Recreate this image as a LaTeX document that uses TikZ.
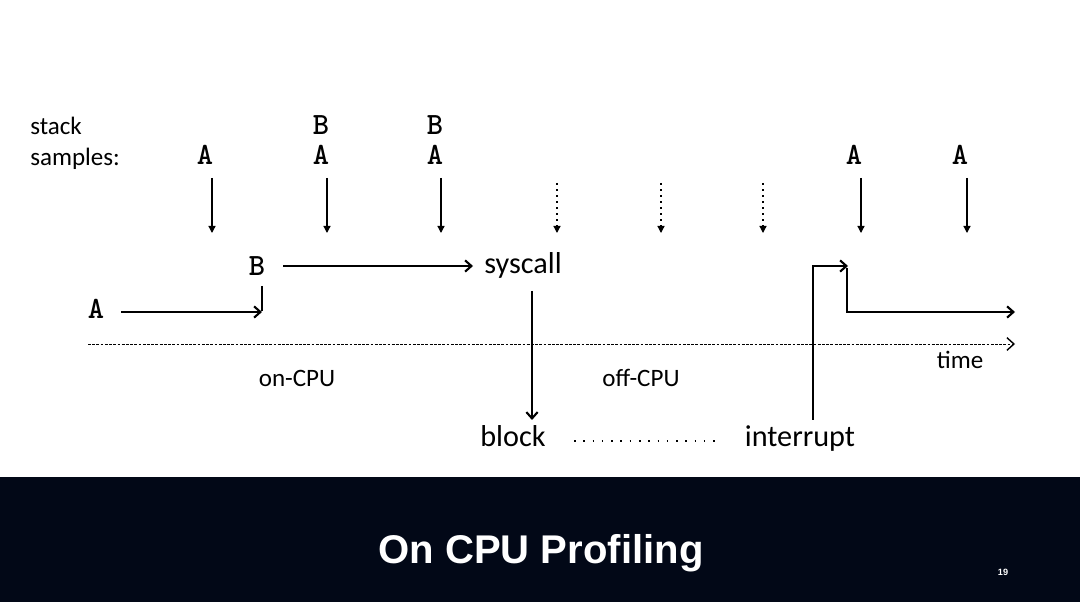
\documentclass[tikz,border=0pt]{standalone}
\usepackage{fontspec}
\setmainfont{Carlito}
\newfontfamily\titlef{Liberation Sans}
\usetikzlibrary{arrows.meta}
\definecolor{band}{HTML}{020817}
\begin{document}
\begin{tikzpicture}[x=0.025cm,y=-0.025cm,
  lbl/.style={font=\fontsize{17.8}{20}\selectfont, inner sep=0, anchor=base},
  big/.style={font=\fontsize{21.5}{24}\selectfont, inner sep=0, anchor=base},
  mono/.style={font=\ttfamily\bfseries\fontsize{22}{24}\selectfont, inner sep=0, anchor=base},
  flow/.style={line width=1.7pt, -{Straight Barb[length=4.5pt,width=8pt,line width=1.5pt]}},
  plainflow/.style={line width=1.7pt},
  samp/.style={line width=0.9pt, -{Triangle[length=5pt,width=5pt]}},
  dsamp/.style={line width=0.9pt, dash pattern=on 1.1pt off 3.2pt, -{Triangle[length=5pt,width=5pt]}},
  timeline/.style={line width=0.6pt, dash pattern=on 2pt off 1pt, -{Straight Barb[length=5pt,width=9pt,line width=1pt]}}
]
\useasboundingbox (0,0) rectangle (1080,602);
\fill[white] (0,0) rectangle (1080,477);
\fill[band] (0,477) rectangle (1080,602);

% left labels
\node[lbl, anchor=base west] (stk) at (30,135) {stack};
\node[lbl, anchor=base west] (smp) at (30,166) {samples:};

% sample stacks
\node[mono] (s1a) at (205,165) {A};
\node[mono] (s2b) at (321,135) {B};
\node[mono] (s2a) at (321,165) {A};
\node[mono] (s3b) at (435,135) {B};
\node[mono] (s3a) at (435,165) {A};
\node[mono] (s7a) at (854,165) {A};
\node[mono] (s8a) at (960,165) {A};

% sample arrow endpoints
\foreach \n/\x in {1/212,2/327,3/441,7/861,8/967}{
  \coordinate (t\n) at (\x,178);
  \coordinate (b\n) at (\x,233);
  \draw[samp] (t\n) -- (b\n);
}
\foreach \n/\x in {4/557,5/661,6/763}{
  \coordinate (t\n) at (\x,183);
  \coordinate (b\n) at (\x,233);
  \draw[dsamp] (t\n) -- (b\n);
}

% flow
\node[mono] (fa) at (96,319) {A};
\node[mono] (fb) at (257,276) {B};
\node[big] (sys) at (523,274) {syscall};
\node[big] (blk) at (513,447) {block};
\node[big] (intr) at (800,447) {interrupt};

\coordinate (a0) at (121,312);
\coordinate (a1) at (262,312);
\coordinate (a2) at (262,286);
\draw[flow] (a0) -- (a1);
\draw[plainflow] (a2) -- ([yshift=0.85pt]a1);

\coordinate (b0) at (283,266);
\coordinate (b1) at (473,266);
\draw[flow] (b0) -- (b1);

\coordinate (c0) at (532,291);
\coordinate (c1) at (532,420);
\draw[flow] (c0) -- (c1);

\draw[line width=1pt, dash pattern=on 1.1pt off 5.5pt] (574,441) -- (718,441);

\coordinate (d0) at (813,420);
\coordinate (d1) at (813,266);
\coordinate (d2) at (848,266);
\draw[flow] (d0) -- (d1) -- (d2);

\coordinate (e0) at (847,268);
\coordinate (e1) at (847,312);
\coordinate (e2) at (1015,312);
\draw[flow] (e0) -- (e1) -- (e2);

% timeline
\coordinate (tl0) at (88,344);
\coordinate (tl1) at (1015,344);
\draw[timeline] (tl0) -- (tl1);
\node[lbl] (time) at (960,369) {time};
\node[lbl] (on) at (297,387) {on-CPU};
\node[lbl] (off) at (641,387) {off-CPU};

% title
\node[font=\titlef\bfseries\fontsize{28.5}{32}\selectfont, text=white, inner sep=0, anchor=base] (title) at (541,564) {On CPU Profiling};
\node[font=\titlef\bfseries\fontsize{6.5}{8}\selectfont, text=white, inner sep=0, anchor=base] (pg) at (1003,575) {19};
\end{tikzpicture}
\end{document}
